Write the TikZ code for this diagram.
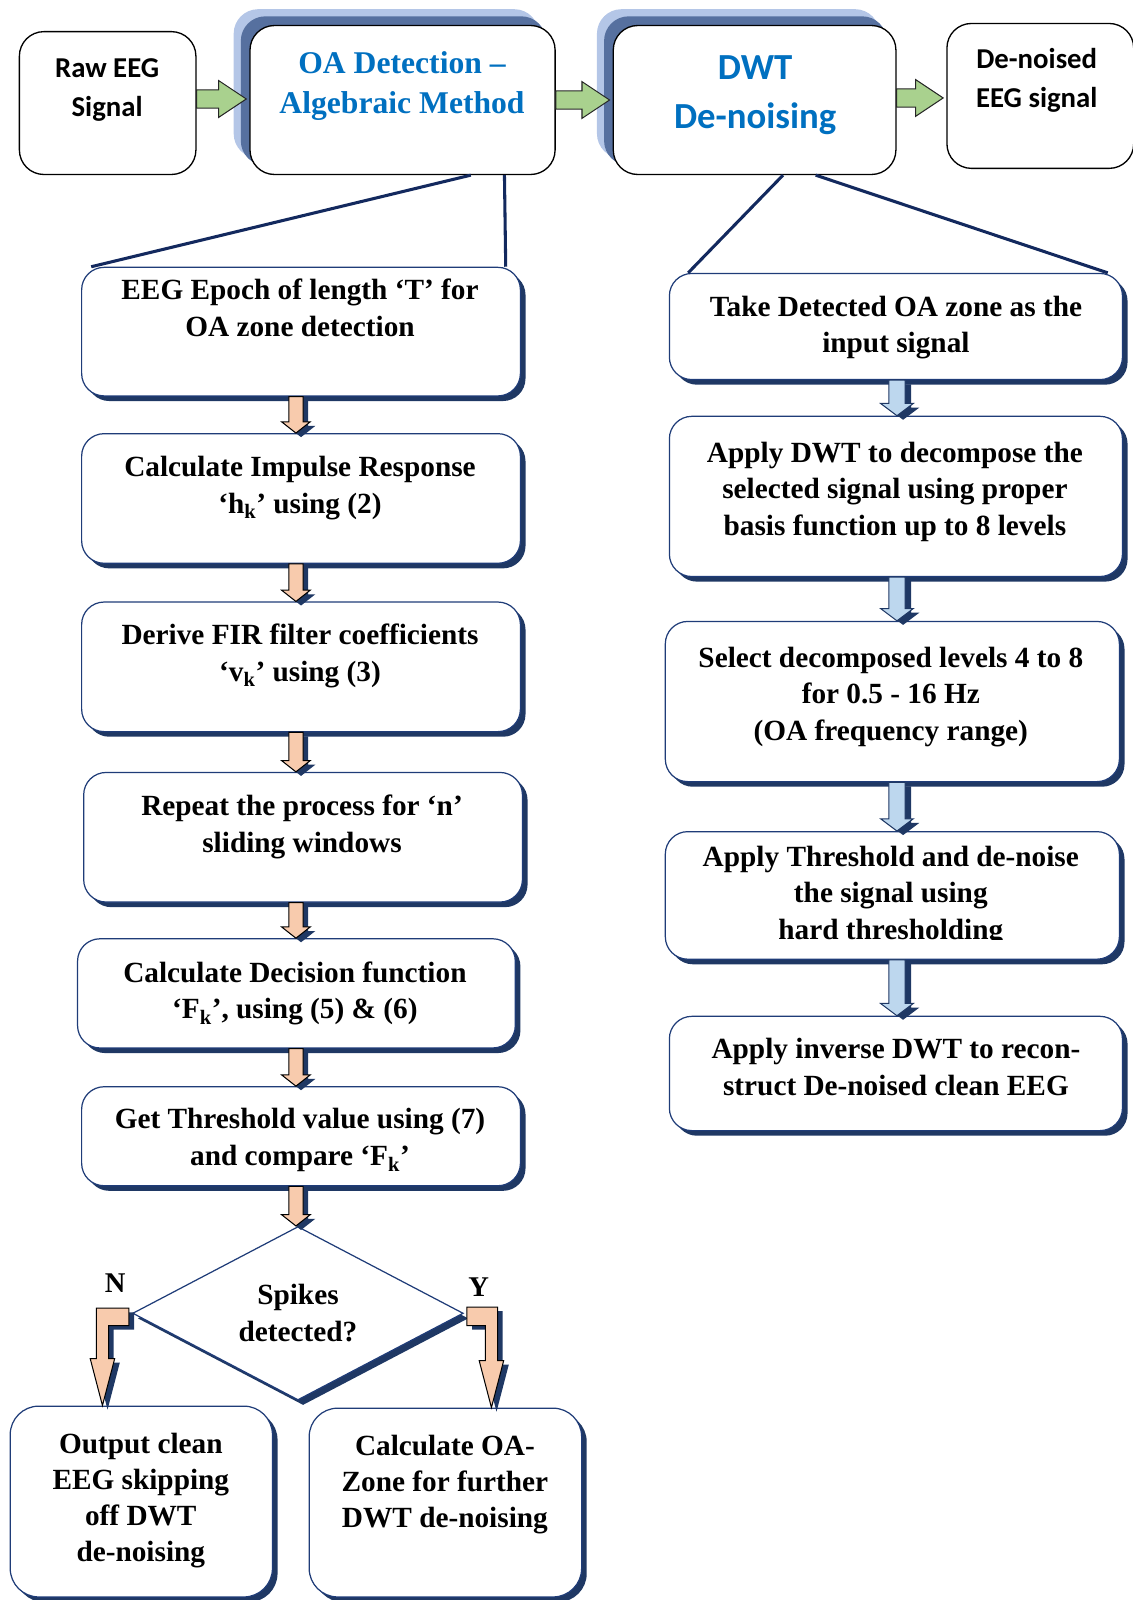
\documentclass[tikz,border=0pt]{standalone}
\usepackage{fontspec}
\setmainfont{Liberation Serif}
\newfontfamily\calfont{Carlito}
\usetikzlibrary{shapes.geometric,calc,shadows}

\definecolor{navy}{HTML}{1F3864}
\definecolor{edgeblue}{HTML}{1F3C78}
\definecolor{linknavy}{HTML}{13295E}
\definecolor{titleblue}{HTML}{0070C0}
\definecolor{haze}{HTML}{B4C6E7}
\definecolor{slate}{HTML}{56709F}
\definecolor{peach}{HTML}{F8CBAD}
\definecolor{sky}{HTML}{BDD7EE}
\definecolor{leaf}{HTML}{A9D18E}

\tikzset{
  topbox/.style={draw=black, line width=1.3pt, fill=white, rounded corners=24pt, inner sep=0pt},
  headbox/.style={topbox,
    drop shadow={shadow xshift=-16pt, shadow yshift=16pt, fill=haze, opacity=1},
    drop shadow={shadow xshift=-9pt, shadow yshift=9pt, fill=slate, opacity=1}},
  flowbox/.style={draw=edgeblue, line width=1.2pt, fill=white, rounded corners=22pt, inner sep=0pt,
    drop shadow={shadow xshift=5pt, shadow yshift=-5pt, fill=navy, opacity=1}},
  endbox/.style={flowbox, rounded corners=28pt},
  steptext/.style={font=\bfseries\fontsize{28.7}{36}\selectfont, align=center, inner sep=0pt},
  endtext/.style={font=\bfseries\fontsize{28.7}{35.5}\selectfont, align=center, inner sep=0pt},
  toptext/.style={font=\calfont\bfseries\fontsize{28.2}{38.5}\selectfont, align=center, inner sep=0pt},
  titleserif/.style={font=\bfseries\fontsize{31}{39}\selectfont, text=titleblue, align=center, inner sep=0pt},
  titlesans/.style={font=\calfont\bfseries\fontsize{36}{48}\selectfont, text=titleblue, align=center, inner sep=0pt},
  branchlabel/.style={font=\bfseries\fontsize{28}{30}\selectfont, inner sep=0pt},
  link/.style={draw=linknavy, line width=3pt},
  peacharrow/.style={draw=black, line width=1pt, fill=peach,
    drop shadow={shadow xshift=5pt, shadow yshift=-4pt, fill=navy, opacity=1}},
  skyarrow/.style={draw=navy, line width=1pt, fill=sky,
    drop shadow={shadow xshift=6pt, shadow yshift=-4pt, fill=navy, opacity=1}},
  leafarrow/.style={draw=black!85, line width=1pt, fill=leaf},
}

% vertical block arrow: style, top anchor, bottom anchor, coordinate giving x,
% shaft half width, head half width, head length
\newcommand\downblock[7]{%
  \path[#1] let \p1=(#2), \p2=(#3), \p3=(#4) in
    (\x3-#5,\y1) -- (\x3+#5,\y1) -- (\x3+#5,\y2+#7) -- (\x3+#6,\y2+#7)
    -- (\x3,\y2) -- (\x3-#6,\y2+#7) -- (\x3-#5,\y2+#7) -- cycle;}

% horizontal block arrow: style, left anchor, right anchor, vertical shift
\newcommand\rightblock[4]{%
  \path[#1] let \p1=(#2), \p2=(#3) in
    (\x1,\y1+#4+9pt) -- (\x2-30pt,\y1+#4+9pt) -- (\x2-30pt,\y1+#4+18pt)
    -- (\x2-3pt,\y1+#4) -- (\x2-30pt,\y1+#4-18pt) -- (\x2-30pt,\y1+#4-9pt)
    -- (\x1,\y1+#4-9pt) -- cycle;}

\begin{document}
\begin{tikzpicture}[x=1pt,y=-1pt]
\useasboundingbox (0,0) rectangle (1110,1568);

% ---------- top row ----------
\node[topbox, minimum width=173pt, minimum height=140pt] (raw) at (105.5,101) {};
\node[toptext] (rawt) at (105,88) {Raw EEG\\Signal};
\node[headbox, minimum width=299pt, minimum height=146pt] (oa) at (394.5,98) {};
\node[titleserif] (oat) at (394,84) {OA Detection –\\Algebraic Method};
\node[headbox, minimum width=277pt, minimum height=146pt] (dwt) at (739.5,98) {};
\node[titlesans] (dwtt) at (740,93) {DWT\\De-noising};
\node[topbox, minimum width=183pt, minimum height=142pt] (den) at (1019.5,94) {};
\node[toptext] (dent) at (1016,79) {De-noised\\EEG signal};

\rightblock{leafarrow}{raw.east}{oa.west}{4pt}
\rightblock{leafarrow}{oa.east}{dwt.west}{0pt}
\rightblock{leafarrow}{dwt.east}{den.west}{2pt}

% ---------- algebraic detection steps ----------
\node[flowbox, minimum width=430pt, minimum height=126pt] (b1) at (295,325) {};
\node[steptext] (b1t) at (294,302) {EEG Epoch of length ‘T’ for\\OA zone detection};
\node[flowbox, minimum width=430pt, minimum height=127pt] (b2) at (295,488.5) {};
\node[steptext] (b2t) at (294,478) {Calculate Impulse Response\\‘h\textsubscript{k}’ using (2)};
\node[flowbox, minimum width=430pt, minimum height=127pt] (b3) at (295,653.5) {};
\node[steptext] (b3t) at (294,642.5) {Derive FIR filter coefficients\\‘v\textsubscript{k}’ using (3)};
\node[flowbox, minimum width=430pt, minimum height=127pt] (b4) at (297,820.5) {};
\node[steptext] (b4t) at (296,810.5) {Repeat the process for ‘n’\\sliding windows};
\node[flowbox, minimum width=429pt, minimum height=107pt] (b5) at (290.5,973.5) {};
\node[steptext] (b5t) at (289,973.5) {Calculate Decision function\\‘F\textsubscript{k}’, using (5) \& (6)};
\node[flowbox, minimum width=430pt, minimum height=97pt] (b6) at (295,1113.5) {};
\node[steptext] (b6t) at (294,1117.5) {Get Threshold value using (7)\\and compare ‘F\textsubscript{k}’};

\node[draw=edgeblue, line width=1.2pt, fill=white, diamond, aspect=2, inner sep=0pt,
  minimum width=324pt, minimum height=170pt,
  drop shadow={shadow xshift=5pt, shadow yshift=-5pt, fill=navy, opacity=1},
  font=\bfseries\fontsize{28.7}{36}\selectfont, align=center] (dec) at (292,1287) {Spikes\\detected?};

\node[endbox, minimum width=257pt, minimum height=187pt] (out) at (138.5,1471.5) {};
\node[endtext] (outt) at (138,1470.5) {Output clean\\EEG skipping\\off DWT\\de-noising};
\node[endbox, minimum width=267pt, minimum height=185pt] (zone) at (436.5,1472.5) {};
\node[endtext] (zonet) at (436,1455) {Calculate OA-\\Zone for further\\DWT de-noising};

\node[branchlabel] (labn) at (113,1257) {N};
\node[branchlabel] (laby) at (469,1261) {Y};

\coordinate (spineL) at (290,0);
\downblock{peacharrow}{b1.south}{b2.north}{spineL}{7pt}{14pt}{11pt}
\downblock{peacharrow}{b2.south}{b3.north}{spineL}{7pt}{14pt}{11pt}
\downblock{peacharrow}{b3.south}{b4.north}{spineL}{7pt}{14pt}{11pt}
\downblock{peacharrow}{b4.south}{b5.north}{spineL}{7pt}{14pt}{11pt}
\downblock{peacharrow}{b5.south}{b6.north}{spineL}{7pt}{14pt}{11pt}
\downblock{peacharrow}{b6.south}{dec.north}{spineL}{7pt}{14pt}{11pt}

% bent branch arrows out of the decision
\path[peacharrow] let \p1=(dec.west), \p2=(out.north) in
  (\x1-3pt,\y1+5pt) -- (\x1-35pt,\y1+5pt) -- (\x1-35pt,\y2+46pt) -- (\x1-41pt,\y2+46pt)
  -- (\x1-29pt,\y2) -- (\x1-17pt,\y2+46pt) -- (\x1-23pt,\y2+46pt) -- (\x1-23pt,\y1-12pt)
  -- (\x1-3pt,\y1-12pt) -- cycle;
\path[peacharrow] let \p1=(dec.east), \p2=(zone.north) in
  (\x1+3pt,\y1+6pt) -- (\x1+33pt,\y1+6pt) -- (\x1+33pt,\y2+46pt) -- (\x1+39pt,\y2+46pt)
  -- (\x1+27pt,\y2) -- (\x1+15pt,\y2+46pt) -- (\x1+21pt,\y2+46pt) -- (\x1+21pt,\y1-12pt)
  -- (\x1+3pt,\y1-12pt) -- cycle;

% ---------- DWT de-noising steps ----------
\node[flowbox, minimum width=444pt, minimum height=104pt] (r1) at (878,320) {};
\node[steptext] (r1t) at (878,321) {Take Detected OA zone as the\\input signal};
\node[flowbox, minimum width=444pt, minimum height=157pt] (r2) at (878,486.5) {};
\node[steptext] (r2t) at (877,482) {Apply DWT to decompose the\\selected signal using proper\\basis function up to 8 levels};
\node[flowbox, minimum width=445pt, minimum height=157pt] (r3) at (874.5,687.5) {};
\node[steptext] (r3t) at (873,683) {Select decomposed levels 4 to 8\\for 0.5 - 16 Hz\\(OA frequency range)};
\node[flowbox, minimum width=445pt, minimum height=125pt] (r4) at (874.5,877.5) {};
\begin{scope}
  \clip (652,815) rectangle (1097,921);
  \node[steptext] (r4t) at (873,878) {Apply Threshold and de-noise\\the signal using\\hard thresholding};
\end{scope}
\node[flowbox, minimum width=444pt, minimum height=112pt] (r5) at (878,1052) {};
\node[steptext] (r5t) at (878,1046) {Apply inverse DWT to recon-\\struct De-noised clean EEG};

\coordinate (spineR) at (879,0);
\downblock{skyarrow}{r1.south}{r2.north}{spineR}{8pt}{16pt}{12pt}
\downblock{skyarrow}{r2.south}{r3.north}{spineR}{8pt}{16pt}{12pt}
\downblock{skyarrow}{r3.south}{r4.north}{spineR}{8pt}{16pt}{12pt}
\downblock{skyarrow}{r4.south}{r5.north}{spineR}{8pt}{16pt}{12pt}

% ---------- expansion lines ----------
\draw[link] ($(oa.south west)+(217,0)$) -- ($(b1.north west)+(10,0)$);
\draw[link] ($(oa.south west)+(250,0)$) -- ($(b1.north east)+(-15,0)$);
\draw[link] ($(dwt.south west)+(167,0)$) -- ($(r1.north west)+(19,0)$);
\draw[link] ($(dwt.south west)+(199,0)$) -- ($(r1.north east)+(-15,0)$);
\end{tikzpicture}
\end{document}
